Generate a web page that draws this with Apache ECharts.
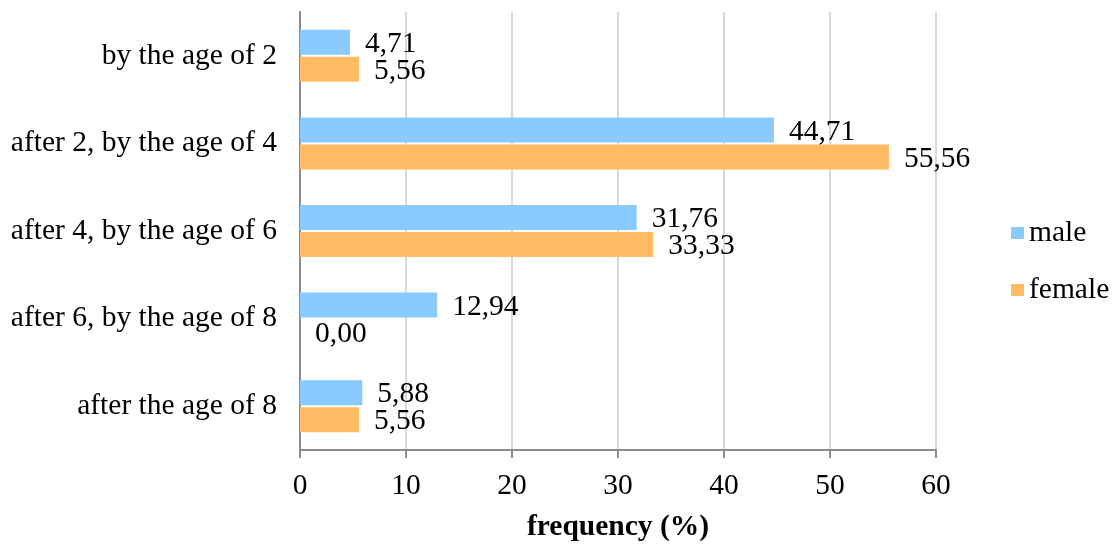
<!DOCTYPE html>
<html>
<head>
<meta charset="utf-8">
<script src="https://cdn.jsdelivr.net/npm/echarts@6/dist/echarts.min.js"></script>
<style>
  html, body { margin: 0; padding: 0; background: #fff; }
  #chart { width: 1118px; height: 546px; }
</style>
</head>
<body>
<div id="chart"></div>
<script>
// Age groups (top to bottom) and frequency (%) per sex
const categories = [
  'by the age of 2',
  'after 2, by the age of 4',
  'after 4, by the age of 6',
  'after 6, by the age of 8',
  'after the age of 8'
];
const maleValues = [4.71, 44.71, 31.76, 12.94, 5.88];
const femaleValues = [5.56, 55.56, 33.33, 0.00, 5.56];
const xTicks = [0, 10, 20, 30, 40, 50, 60];

const FONT = '"Liberation Serif", "Times New Roman", serif';
const SIZE = 29.5;

const fmt = v => v.toFixed(2).replace('.', ',');

const chart = echarts.init(document.getElementById('chart'), null, { renderer: 'canvas' });

const valueLabel = {
  show: true,
  position: 'right',
  distance: 15,
  offset: [0, 2],
  color: '#000',
  fontFamily: FONT,
  fontSize: SIZE,
  formatter: p => fmt(p.value)
};

chart.setOption({
  animation: false,
  backgroundColor: '#ffffff',
  textStyle: { fontFamily: FONT },
  grid: { left: 300, right: 182, top: 12, bottom: 96, containLabel: false, outerBoundsMode: 'none' },
  legend: {
    orient: 'vertical',
    left: 1011,
    top: 218,
    padding: 0,
    itemWidth: 13,
    itemHeight: 12,
    itemGap: 27,
    icon: 'rect',
    textStyle: { fontFamily: FONT, fontSize: SIZE, color: '#000' },
    data: ['male', 'female']
  },
  xAxis: {
    type: 'value',
    min: xTicks[0],
    max: xTicks[xTicks.length - 1],
    interval: 10,
    name: 'frequency (%)',
    nameLocation: 'middle',
    nameGap: 62,
    nameTextStyle: { fontFamily: FONT, fontSize: SIZE, fontWeight: 'bold', color: '#000' },
    axisLine: { show: true, lineStyle: { color: '#8c8c8c', width: 2 } },
    axisTick: { show: true, length: 8, lineStyle: { color: '#8c8c8c', width: 2 } },
    axisLabel: { color: '#000', fontFamily: FONT, fontSize: SIZE, margin: 21 },
    splitLine: { show: true, lineStyle: { color: '#d9d9d9', width: 2 } }
  },
  yAxis: {
    type: 'category',
    inverse: true,
    data: categories,
    axisLine: { show: true, lineStyle: { color: '#8c8c8c', width: 2 } },
    axisTick: { show: false },
    axisLabel: { color: '#000', fontFamily: FONT, fontSize: SIZE, margin: 23 },
    splitLine: { show: false }
  },
  series: [
    {
      name: 'male',
      type: 'bar',
      data: maleValues,
      barWidth: 25,
      barGap: '8%',
      itemStyle: { color: '#8acbff' },
      label: valueLabel
    },
    {
      name: 'female',
      type: 'bar',
      data: femaleValues,
      barWidth: 25,
      itemStyle: { color: '#ffbc62' },
      label: valueLabel
    }
  ]
});
</script>
</body>
</html>
